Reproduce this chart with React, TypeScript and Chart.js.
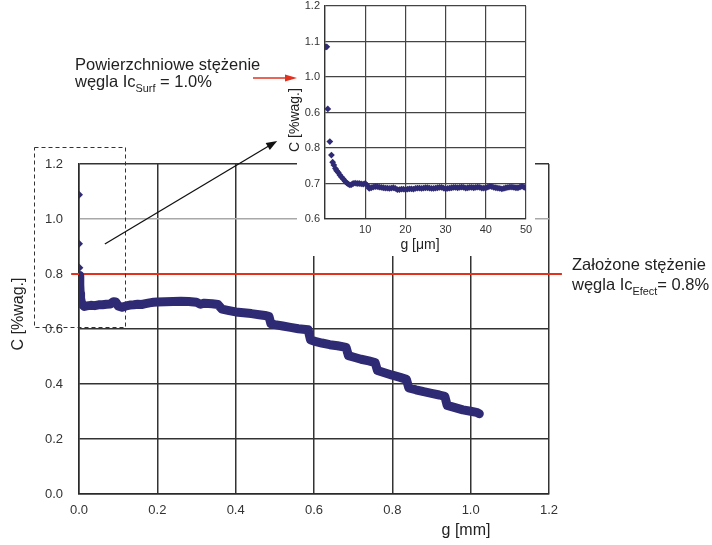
import React, { useEffect, useRef } from 'react';
import { Chart, registerables } from 'chart.js';

Chart.register(...registerables);

const FONT = '"Liberation Sans", Arial, sans-serif';
const NAVY = '#2f2a74';
const RED = '#e2321f';
const INK = '#222222';

// ---- main chart data (depth g in mm, carbon C in %wag.) ----
const surfaceDepthMm = [0, 0, 0.001];
const surfaceC = [1.088, 0.91, 0.823];

const profileDepthMm = [
  0.002, 0.002, 0.003, 0.004, 0.006, 0.009, 0.014, 0.02, 0.03, 0.04, 0.05, 0.06, 0.07, 0.08,
  0.088, 0.094, 0.1, 0.11, 0.12, 0.13, 0.14, 0.15, 0.16, 0.17, 0.18, 0.19, 0.2, 0.22, 0.24,
  0.26, 0.28, 0.3, 0.31, 0.32, 0.34, 0.355, 0.365, 0.38, 0.4, 0.42, 0.44, 0.46, 0.475, 0.485,
  0.49, 0.5, 0.52, 0.54, 0.56, 0.585, 0.591, 0.6, 0.62, 0.64, 0.66, 0.682, 0.688, 0.7, 0.72,
  0.74, 0.756, 0.762, 0.78, 0.8, 0.82, 0.836, 0.842, 0.86, 0.88, 0.9, 0.92, 0.934, 0.94, 0.96,
  0.98, 1.0, 1.015, 1.022,
];
const profileC = [
  0.795, 0.76, 0.73, 0.712, 0.698, 0.688, 0.682, 0.684, 0.686, 0.685, 0.688, 0.688, 0.69, 0.691,
  0.699, 0.698, 0.684, 0.679, 0.684, 0.687, 0.688, 0.69, 0.689, 0.692, 0.695, 0.697, 0.698, 0.699, 0.7,
  0.701, 0.7, 0.697, 0.69, 0.694, 0.692, 0.689, 0.672, 0.668, 0.662, 0.659, 0.656, 0.652, 0.649, 0.646,
  0.619, 0.616, 0.611, 0.606, 0.601, 0.597, 0.561, 0.556, 0.549, 0.543, 0.539, 0.533, 0.503, 0.498, 0.49,
  0.484, 0.478, 0.449, 0.441, 0.432, 0.424, 0.417, 0.386, 0.379, 0.372, 0.366, 0.36, 0.355, 0.322, 0.314,
  0.306, 0.301, 0.297, 0.292,
];

const mainXTicks = ['0.0', '0.2', '0.4', '0.6', '0.8', '1.0', '1.2'];
const mainYTicks = ['0.0', '0.2', '0.4', '0.6', '0.8', '1.0', '1.2'];
const targetC = 0.8;

// ---- inset data (depth g in µm) ----
const insetDepthUm = [
  0.2, 0.45, 0.7, 1.2, 1.6, 1.9, 2.2, 2.6, 2.9, 3.3, 3.7, 4.1, 4.6, 5.0, 5.4, 5.8, 6.2, 6.6,
  7.0, 7.5, 8.0, 8.5, 9.0, 9.5, 10.0, 10.5, 11.0, 11.5, 12.0, 12.5, 13.0, 13.5, 14.0, 14.5,
  15.0, 15.5, 16.0, 16.5, 17.0, 17.5, 18.0, 18.5, 19.0, 19.5, 20.0, 20.5, 21.0, 21.5, 22.0,
  22.5, 23.0, 23.5, 24.0, 24.5, 25.0, 25.5, 26.0, 26.5, 27.0, 27.5, 28.0, 28.5, 29.0, 29.5,
  30.0, 30.5, 31.0, 31.5, 32.0, 32.5, 33.0, 33.5, 34.0, 34.5, 35.0, 35.5, 36.0, 36.5, 37.0,
  37.5, 38.0, 38.5, 39.0, 39.5, 40.0, 40.5, 41.0, 41.5, 42.0, 42.5, 43.0, 43.5, 44.0, 44.5,
  45.0, 45.5, 46.0, 46.5, 47.0, 47.5, 48.0, 48.5, 49.0, 49.5, 50.0,
];
const insetC = [
  1.085, 1.085, 0.91, 0.818, 0.78, 0.76, 0.752, 0.742, 0.736, 0.731, 0.724, 0.718, 0.712, 0.706,
  0.702, 0.698, 0.696, 0.697,
  0.7, 0.701, 0.7, 0.7, 0.699, 0.698, 0.7, 0.695, 0.686, 0.688, 0.69, 0.691, 0.691, 0.69, 0.689, 0.688,
  0.687, 0.687, 0.686, 0.687, 0.688, 0.686, 0.683, 0.683, 0.684, 0.684, 0.683, 0.684, 0.685, 0.685, 0.684,
  0.686, 0.687, 0.687, 0.686, 0.687, 0.688, 0.688, 0.687, 0.686, 0.686, 0.687, 0.688, 0.689, 0.689, 0.687,
  0.685, 0.686, 0.687, 0.688, 0.689, 0.689, 0.688, 0.689, 0.69, 0.689, 0.687, 0.688, 0.689, 0.689, 0.688,
  0.689, 0.69, 0.689, 0.687, 0.687, 0.688, 0.69, 0.692, 0.691, 0.689, 0.688, 0.687, 0.686, 0.685, 0.686,
  0.688, 0.689, 0.69, 0.69, 0.689, 0.688, 0.688, 0.69, 0.692, 0.69, 0.686,
];
const insetXTicks = ['', '10', '20', '30', '40', '50'];
const insetYTicks = ['0.6', '0.7', '0.8', '0.6', '1.0', '1.1', '1.2'];
const surfaceLevel = 1.0;

// annotation geometry in main-chart data units
const zoomBox = { x0: -0.115, x1: 0.117, y0: 0.607, y1: 1.262 };
const zoomArrow = { x0: 0.066, y0: 0.909, x1: 0.506, y1: 1.284 };
const targetLineSpan = { x0: -0.02, x1: 1.233 };

function drawRich(ctx: CanvasRenderingContext2D, x: number, y: number, parts: [string, boolean][], size: number) {
  let cx = x;
  for (const [t, sub] of parts) {
    ctx.font = `${sub ? size * 0.66 : size}px ${FONT}`;
    ctx.fillText(t, cx, sub ? y + 5 : y);
    cx += ctx.measureText(t).width;
  }
}

function arrowHead(ctx: CanvasRenderingContext2D, x0: number, y0: number, x1: number, y1: number, len: number, half: number) {
  const a = Math.atan2(y1 - y0, x1 - x0);
  ctx.beginPath();
  ctx.moveTo(x1, y1);
  ctx.lineTo(x1 - len * Math.cos(a) + half * Math.sin(a), y1 - len * Math.sin(a) - half * Math.cos(a));
  ctx.lineTo(x1 - len * Math.cos(a) - half * Math.sin(a), y1 - len * Math.sin(a) + half * Math.cos(a));
  ctx.closePath();
  ctx.fill();
}

const mainAnno = {
  id: 'mainAnno',
  beforeDatasetsDraw(chart: any) {
    const { ctx, scales } = chart;
    const y = scales.y.getPixelForValue(targetC);
    ctx.save();
    ctx.strokeStyle = RED;
    ctx.lineWidth = 2;
    ctx.beginPath();
    ctx.moveTo(scales.x.getPixelForValue(targetLineSpan.x0), y);
    ctx.lineTo(scales.x.getPixelForValue(targetLineSpan.x1), y);
    ctx.stroke();
    ctx.restore();
  },
  afterDraw(chart: any) {
    const { ctx, scales } = chart;
    const xs = scales.x, ys = scales.y;
    ctx.save();
    // dashed zoom box
    ctx.strokeStyle = '#333';
    ctx.lineWidth = 1;
    ctx.setLineDash([4, 3]);
    const bx0 = Math.round(xs.getPixelForValue(zoomBox.x0)) + 0.5;
    const bx1 = Math.round(xs.getPixelForValue(zoomBox.x1)) + 0.5;
    const by0 = Math.round(ys.getPixelForValue(zoomBox.y1)) + 0.5;
    const by1 = Math.round(ys.getPixelForValue(zoomBox.y0)) + 0.5;
    ctx.strokeRect(bx0, by0, bx1 - bx0, by1 - by0);
    ctx.setLineDash([]);
    // black arrow
    const ax0 = xs.getPixelForValue(zoomArrow.x0), ay0 = ys.getPixelForValue(zoomArrow.y0);
    const ax1 = xs.getPixelForValue(zoomArrow.x1), ay1 = ys.getPixelForValue(zoomArrow.y1);
    const ang = Math.atan2(ay1 - ay0, ax1 - ax0);
    ctx.strokeStyle = '#111';
    ctx.fillStyle = '#111';
    ctx.lineWidth = 1.3;
    ctx.beginPath();
    ctx.moveTo(ax0, ay0);
    ctx.lineTo(ax1 - 6 * Math.cos(ang), ay1 - 6 * Math.sin(ang));
    ctx.stroke();
    arrowHead(ctx, ax0, ay0, ax1, ay1, 11, 4);
    // axis titles
    ctx.fillStyle = INK;
    ctx.font = `16px ${FONT}`;
    ctx.textAlign = 'center';
    ctx.textBaseline = 'middle';
    ctx.fillText('g [mm]', 466, 531);
    ctx.save();
    ctx.translate(19, 314);
    ctx.rotate(-Math.PI / 2);
    ctx.fillText('C [%wag.]', 0, 0);
    ctx.restore();
    // target annotation
    ctx.textAlign = 'left';
    ctx.textBaseline = 'alphabetic';
    ctx.font = `16.5px ${FONT}`;
    ctx.fillText('Założone stężenie', 572, 270);
    drawRich(ctx, 572, 290, [['węgla Ic', false], ['Efect', true], ['= 0.8%', false]], 16.5);
    ctx.restore();
  },
};

const insetAnno = {
  id: 'insetAnno',
  beforeDraw(chart: any) {
    const { ctx } = chart;
    ctx.save();
    ctx.fillStyle = '#ffffff';
    ctx.fillRect(297, 0, 238, 256);
    ctx.restore();
  },
  afterDraw(chart: any) {
    const { ctx, scales, chartArea } = chart;
    ctx.save();
    ctx.fillStyle = INK;
    ctx.textAlign = 'center';
    ctx.textBaseline = 'middle';
    ctx.font = `14px ${FONT}`;
    ctx.fillText('g [μm]', 420, 245);
    ctx.save();
    ctx.translate(295, 120);
    ctx.rotate(-Math.PI / 2);
    ctx.fillText('C [%wag.]', 0, 0);
    ctx.restore();
    // red arrow to surface level
    const y = scales.y.getPixelForValue(surfaceLevel) + 1;
    const x1 = chartArea.left - 28;
    const x0 = x1 - 44;
    ctx.strokeStyle = RED;
    ctx.fillStyle = RED;
    ctx.lineWidth = 1.6;
    ctx.beginPath();
    ctx.moveTo(x0, y);
    ctx.lineTo(x1 - 8, y);
    ctx.stroke();
    arrowHead(ctx, x0, y, x1, y, 12, 3.5);
    // surface annotation
    ctx.fillStyle = INK;
    ctx.textAlign = 'left';
    ctx.textBaseline = 'alphabetic';
    ctx.font = `16.5px ${FONT}`;
    ctx.fillText('Powierzchniowe stężenie', 75, 70);
    drawRich(ctx, 75, 87, [['węgla Ic', false], ['Surf', true], [' = 1.0%', false]], 16.5);
    ctx.restore();
  },
};

const noPad = (s: any) => {
  s.paddingTop = 0;
  s.paddingBottom = 0;
  s.paddingLeft = 0;
  s.paddingRight = 0;
};

export default function App() {
  const mainRef = useRef<HTMLCanvasElement>(null);
  const insetRef = useRef<HTMLCanvasElement>(null);

  useEffect(() => {
    const profile = profileDepthMm.map((x, i) => ({ x, y: profileC[i] }));
    const surface = surfaceDepthMm.map((x, i) => ({ x, y: surfaceC[i] }));
    const gridColor = (c: any) => (c.tick && Math.abs(c.tick.value - 1.0) < 1e-6 ? '#a8a8a8' : '#333333');

    const main = new Chart(mainRef.current!, {
      type: 'scatter',
      data: {
        datasets: [
          {
            data: profile,
            showLine: true,
            borderColor: NAVY,
            backgroundColor: NAVY,
            borderWidth: 9,
            pointRadius: 0,
            borderJoinStyle: 'round',
            borderCapStyle: 'round',
            tension: 0,
          } as any,
          {
            data: surface,
            pointStyle: 'rectRot',
            pointRadius: 4,
            backgroundColor: NAVY,
            borderColor: NAVY,
            borderWidth: 0,
          },
        ],
      },
      options: {
        responsive: false,
        animation: false,
        events: [],
        layout: { padding: { left: 0, right: 163, top: 164, bottom: 0 } },
        plugins: { legend: { display: false }, tooltip: { enabled: false } },
        scales: {
          x: {
            type: 'linear',
            min: 0,
            max: 1.2,
            afterFit: (s: any) => { s.height = 51; },
            grid: { color: '#333333', lineWidth: 1.5, drawTicks: false },
            border: { display: true, color: '#2a2a2a', width: 1.5 },
            ticks: {
              stepSize: 0.2,
              padding: 9,
              color: '#333',
              font: { family: FONT, size: 13 },
              callback: (_v: any, i: number) => mainXTicks[i],
              maxRotation: 0,
            },
          },
          y: {
            type: 'linear',
            min: 0,
            max: 1.2,
            afterFit: (s: any) => { s.width = 79; },
            grid: { color: gridColor, lineWidth: 1.5, drawTicks: false },
            border: { display: true, color: '#2a2a2a', width: 1.5 },
            ticks: {
              stepSize: 0.2,
              padding: 16,
              color: '#333',
              font: { family: FONT, size: 13 },
              callback: (_v: any, i: number) => mainYTicks[i],
            },
          },
        },
      },
      plugins: [mainAnno],
    });

    const inset = new Chart(insetRef.current!, {
      type: 'scatter',
      data: {
        datasets: [
          {
            data: insetDepthUm.map((x, i) => ({ x, y: insetC[i] })),
            pointStyle: 'rectRot',
            pointRadius: 3.4,
            backgroundColor: NAVY,
            borderColor: NAVY,
            borderWidth: 0,
          },
        ],
      },
      options: {
        responsive: false,
        animation: false,
        events: [],
        layout: { padding: { left: 285, right: 186, top: 6, bottom: 296 } },
        plugins: { legend: { display: false }, tooltip: { enabled: false } },
        scales: {
          x: {
            type: 'linear',
            min: 0,
            max: 50,
            afterFit: (s: any) => { s.height = 30; noPad(s); },
            grid: { color: '#444', lineWidth: 1.2, drawTicks: false },
            border: { display: true, color: '#333', width: 1.3 },
            ticks: {
              stepSize: 10,
              padding: 4,
              color: '#333',
              font: { family: FONT, size: 11 },
              callback: (_v: any, i: number) => insetXTicks[i],
              maxRotation: 0,
            },
          },
          y: {
            type: 'linear',
            min: 0.6,
            max: 1.2,
            afterFit: (s: any) => { s.width = 40; noPad(s); },
            grid: { color: '#444', lineWidth: 1.2, drawTicks: false },
            border: { display: true, color: '#333', width: 1.3 },
            ticks: {
              stepSize: 0.1,
              padding: 5,
              color: '#333',
              font: { family: FONT, size: 11 },
              callback: (_v: any, i: number) => insetYTicks[i],
            },
          },
        },
      },
      plugins: [insetAnno],
    });

    return () => {
      main.destroy();
      inset.destroy();
    };
  }, []);

  return (
    <div style={{ position: 'fixed', left: 0, top: 0, width: 712, height: 545, background: '#fff' }}>
      <canvas ref={mainRef} width={712} height={545} style={{ position: 'absolute', left: 0, top: 0, display: 'block' }} />
      <canvas ref={insetRef} width={712} height={545} style={{ position: 'absolute', left: 0, top: 0, display: 'block' }} />
    </div>
  );
}
